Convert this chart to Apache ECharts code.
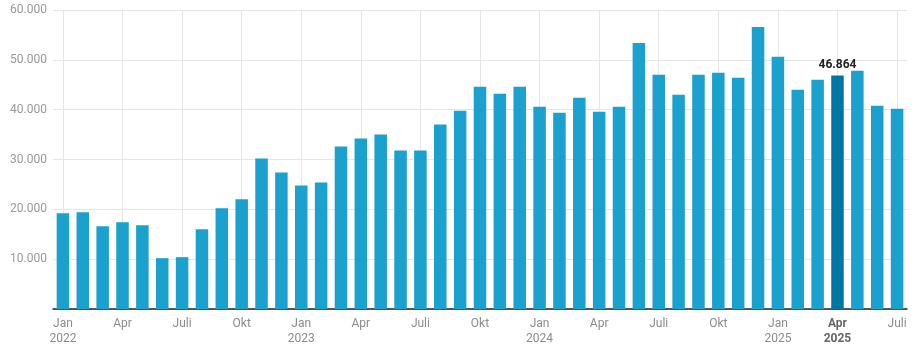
<!DOCTYPE html>
<html>
<head>
<meta charset="utf-8">
<script src="https://cdn.jsdelivr.net/npm/echarts@6/dist/echarts.min.js"></script>
<style>
  html, body { margin: 0; padding: 0; background: #fff; }
  #chart { width: 921px; height: 346px; }
</style>
</head>
<body>
<div id="chart"></div>
<script>
// Monthly values, Jan 2022 – Jul 2025
const months = ['Jan','Feb','Mär','Apr','Mai','Juni','Juli','Aug','Sep','Okt','Nov','Dez'];
const years = [2022, 2023, 2024, 2025];
const values2022 = [19200, 19400, 16600, 17400, 16800, 10200, 10400, 16000, 20200, 22000, 30200, 27400];
const values2023 = [24800, 25400, 32600, 34200, 35000, 31800, 31800, 37000, 39800, 44600, 43200, 44600];
const values2024 = [40600, 39400, 42400, 39600, 40600, 53400, 47000, 43000, 47000, 47400, 46400, 56600];
const values2025 = [50600, 44000, 46000, 46864, 47800, 40800, 40200];
const highlightIndex = 39; // Apr 2025
const yTicks = [0, 10000, 20000, 30000, 40000, 50000, 60000];

const categories = [];
const yearOf = [];
const monthOf = [];
[values2022, values2023, values2024, values2025].forEach((arr, yi) => {
  arr.forEach((v, mi) => {
    categories.push(months[mi] + ' ' + years[yi]);
    yearOf.push(years[yi]);
    monthOf.push(mi);
  });
});
const values = [].concat(values2022, values2023, values2024, values2025);

const fmt = v => v === 0 ? '' : String(v).replace(/\B(?=(\d{3})+(?!\d))/g, '.');

const chart = echarts.init(document.getElementById('chart'), null, { renderer: 'canvas' });
chart.setOption({
  animation: false,
  textStyle: { fontFamily: 'Roboto' },
  grid: { left: 53, right: 14, top: 10, bottom: 36, containLabel: false },
  xAxis: {
    type: 'category',
    data: categories,
    boundaryGap: true,
    axisLine: { lineStyle: { color: '#222', width: 1.5 } },
    axisTick: { show: false },
    splitLine: { show: true, interval: 2, alignWithLabel: true, lineStyle: { color: '#e6e6e6', width: 1 } },
    axisLabel: {
      interval: 2,
      margin: 7,
      lineHeight: 15,
      fontSize: 12,
      color: '#8c8c8c',
      formatter: (val, idx) => {
        const m = months[monthOf[idx]];
        const y = yearOf[idx];
        if (idx === highlightIndex) return '{hl|' + m + '}\n{hl|' + y + '}';
        return monthOf[idx] === 0 ? m + '\n' + y : m;
      },
      rich: {
        hl: { fontWeight: 'bold', color: '#666', fontSize: 12, lineHeight: 15, fontFamily: 'Roboto' }
      }
    }
  },
  yAxis: {
    type: 'value',
    min: yTicks[0],
    max: yTicks[yTicks.length - 1],
    interval: 10000,
    axisLine: { show: false },
    axisTick: { show: false },
    splitLine: { lineStyle: { color: '#e6e6e6', width: 1 } },
    axisLabel: { fontSize: 12, color: '#999', margin: 6, formatter: fmt }
  },
  series: [{
    type: 'bar',
    barWidth: '63%',
    data: values.map((v, i) => i === highlightIndex ? {
      value: v,
      itemStyle: { color: '#0077a2' },
      label: {
        show: true, position: 'top', distance: 4,
        formatter: p => fmt(p.value),
        fontWeight: 'bold', fontSize: 12, color: '#222', fontFamily: 'Roboto'
      }
    } : v),
    itemStyle: { color: '#1aa1cd' }
  }]
});
</script>
</body>
</html>
